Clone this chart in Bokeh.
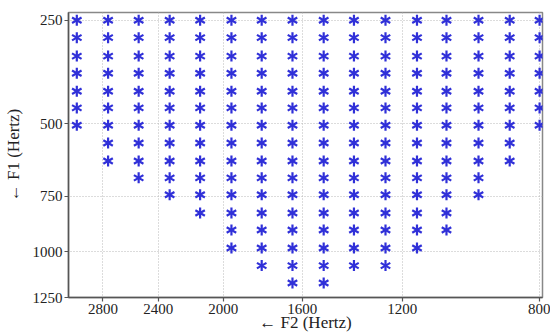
import numpy as np
from bokeh.plotting import figure
from bokeh.models import Range1d, FixedTicker, CustomJSTickFormatter, ColumnDataSource
from bokeh.embed import file_html
from bokeh.resources import INLINE

# ---- data (Hz) ----
f2_columns = [3010, 2760, 2535, 2325, 2135, 1955, 1795, 1645, 1505, 1380, 1260, 1150, 1055, 960, 875, 800]
f1_rows = [250, 285, 325, 365, 410, 455, 505, 560, 620, 680, 745, 820, 895, 980, 1070, 1165]
stars_per_column = [7, 9, 10, 11, 12, 14, 15, 16, 16, 15, 15, 14, 13, 11, 9, 7]
f2_ticks = [2800, 2400, 2000, 1600, 1200, 800]
f1_ticks = [250, 500, 750, 1000, 1250]
f2_limits = (3080, 793)
f1_limits = (1250, 235)


# perceptual frequency scales used by the chart's axes
def f2_scale(f):
    return np.log10(1.0 + np.asarray(f, dtype=float) / 100.0)


def f1_scale(f):
    return 21.4 * np.log10(1.0 + 0.00437 * np.asarray(f, dtype=float))


xs, ys = [], []
for f2, n in zip(f2_columns, stars_per_column):
    for f1 in f1_rows[:n]:
        xs.append(f2)
        ys.append(f1)

src = ColumnDataSource(dict(x=f2_scale(xs), y=f1_scale(ys)))

p = figure(
    width=550, height=335,
    x_range=Range1d(float(f2_scale(f2_limits[0])), float(f2_scale(f2_limits[1]))),
    y_range=Range1d(float(f1_scale(f1_limits[0])), float(f1_scale(f1_limits[1]))),
    output_backend="svg", toolbar_location=None,
    min_border_left=68, min_border_right=8, min_border_top=12, min_border_bottom=38,
    background_fill_color="white", border_fill_color="white",
)

star_color = "#3030d8"
for ang in (np.pi / 2, np.pi / 6, -np.pi / 6):
    p.scatter("x", "y", source=src, marker="dash", size=11, angle=ang,
              line_color=star_color, line_width=2.2)

p.xaxis.ticker = FixedTicker(ticks=[float(v) for v in f2_scale(f2_ticks)])
p.yaxis.ticker = FixedTicker(ticks=[float(v) for v in f1_scale(f1_ticks)])
p.xaxis.formatter = CustomJSTickFormatter(code="return String(Math.round(100*(Math.pow(10, tick)-1)));")
p.yaxis.formatter = CustomJSTickFormatter(code="return String(Math.round((Math.pow(10, tick/21.4)-1)/0.00437));")

for ax in (p.xaxis[0], p.yaxis[0]):
    ax.major_label_text_font = "Liberation Serif"
    ax.major_label_text_font_size = "15px"
    ax.major_label_text_color = "#222222"
    ax.axis_line_color = "#555555"
    ax.axis_line_width = 1.5
    ax.major_tick_line_color = "#555555"
    ax.major_tick_line_width = 1.2
    ax.major_tick_in = 0
    ax.major_tick_out = 4
    ax.minor_tick_line_color = None
    ax.major_label_standoff = 2
    ax.axis_label_text_font = "Liberation Serif"
    ax.axis_label_text_font_size = "17px"
    ax.axis_label_text_font_style = "normal"
    ax.axis_label_text_color = "#222222"

p.yaxis.axis_label = "← F1 (Hertz)"
p.yaxis.axis_label_standoff = 7
p.xaxis.axis_label = "← F2 (Hertz)"
p.xaxis.axis_label_standoff = -4

for g in (p.xgrid[0], p.ygrid[0]):
    g.grid_line_color = "#b8b8b8"
    g.grid_line_dash = "1 2"
    g.grid_line_width = 1

p.outline_line_color = "#888888"
p.outline_line_width = 1.5

open("out.html", "w").write(file_html(p, INLINE))
